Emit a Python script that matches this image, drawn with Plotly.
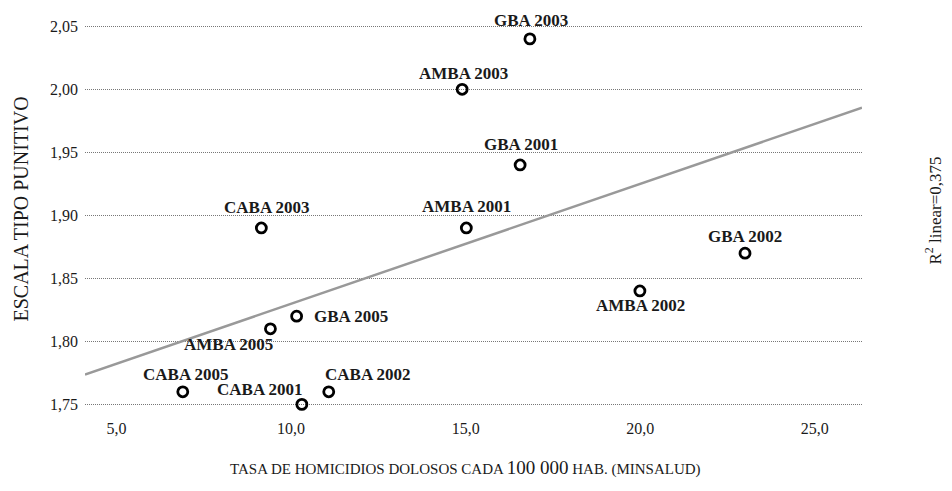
import numpy as np
import plotly.graph_objects as go

# ---- data ----
labels = ["GBA 2003", "AMBA 2003", "GBA 2001", "AMBA 2001", "CABA 2003", "GBA 2002",
          "AMBA 2002", "GBA 2005", "AMBA 2005", "CABA 2005", "CABA 2001", "CABA 2002"]
tasa = [16.84, 14.90, 16.56, 15.02, 9.15, 23.00, 19.99, 10.16, 9.41, 6.90, 10.31, 11.08]
escala = [2.04, 2.00, 1.94, 1.89, 1.89, 1.87, 1.84, 1.82, 1.81, 1.76, 1.75, 1.76]

x_tickvals = [5, 10, 15, 20, 25]
x_ticktext = ["5,0", "10,0", "15,0", "20,0", "25,0"]
y_tickvals = [1.75, 1.80, 1.85, 1.90, 1.95, 2.00, 2.05]
y_ticktext = ["1,75", "1,80", "1,85", "1,90", "1,95", "2,00", "2,05"]

r2_text = "R<sup>2</sup> linear=0,375"
x_title = ("TASA DE HOMICIDIOS DOLOSOS CADA <span style='font-size:19px'>100 000</span>"
           " HAB. (MINSALUD)")
y_title = "ESCALA TIPO PUNITIVO"

# label placement (xanchor, xshift, yshift) per point
label_pos = [("center", 1, 18), ("center", 1, 16), ("center", 1, 20), ("center", 0, 21),
             ("center", 5, 20), ("center", 0, 17), ("center", 1, -15), ("left", 15, 0),
             ("center", -42, -16), ("center", 3, 17), ("center", -42, 15), ("center", 39, 17)]

XR = [4.1, 26.35]
YR = [1.74, 2.055]

SERIF = "Liberation Serif"
TXT = "#1a1a1a"

slope, intercept = np.polyfit(tasa, escala, 1)
fit_x = np.array(XR)
fit_y = slope * fit_x + intercept

fig = go.Figure()
fig.add_trace(go.Scatter(x=fit_x, y=fit_y, mode="lines",
                         line=dict(color="#999999", width=2.5), hoverinfo="skip",
                         showlegend=False))
fig.add_trace(go.Scatter(x=tasa, y=escala, mode="markers", text=labels,
                         marker=dict(symbol="circle-open", size=10, color="black",
                                     line=dict(width=2.8, color="black")),
                         showlegend=False))

annotations = []
for name, xv, yv, (xa, xs, ys) in zip(labels, tasa, escala, label_pos):
    annotations.append(dict(x=xv, y=yv, xref="x", yref="y", text=f"<b>{name}</b>",
                            showarrow=False, xanchor=xa, yanchor="middle",
                            xshift=xs, yshift=ys,
                            font=dict(family=SERIF, size=17, color=TXT)))

annotations.append(dict(x=1.0914, y=0.52, xref="paper", yref="paper", text=r2_text,
                        showarrow=False, textangle=-90, xanchor="center", yanchor="middle",
                        font=dict(family=SERIF, size=17, color=TXT)))
annotations.append(dict(x=-77 / 777, y=0.5226, xref="paper", yref="paper", text=y_title,
                        showarrow=False, textangle=-90, xanchor="left", yanchor="middle",
                        font=dict(family=SERIF, size=20, color=TXT)))
annotations.append(dict(x=0.49, y=-0.126, xref="paper", yref="paper", text=x_title,
                        showarrow=False, xanchor="center", yanchor="middle",
                        font=dict(family=SERIF, size=15, color=TXT)))

fig.update_layout(
    width=944, height=483,
    margin=dict(l=77, r=90, t=10, b=74),
    paper_bgcolor="white", plot_bgcolor="white",
    font=dict(family=SERIF, color=TXT),
    annotations=annotations,
    xaxis=dict(range=XR, tickvals=x_tickvals, ticktext=x_ticktext, showgrid=False,
               zeroline=False, showline=False, ticks="",
               tickfont=dict(family=SERIF, size=16, color=TXT)),
    yaxis=dict(range=YR, tickvals=y_tickvals, ticktext=y_ticktext, showgrid=True,
               gridcolor="#777777", gridwidth=1, griddash="1px,1px", zeroline=False,
               showline=False, ticks="", ticklabelstandoff=6,
               tickfont=dict(family=SERIF, size=16, color=TXT)),
)

fig.write_html("out.html")
